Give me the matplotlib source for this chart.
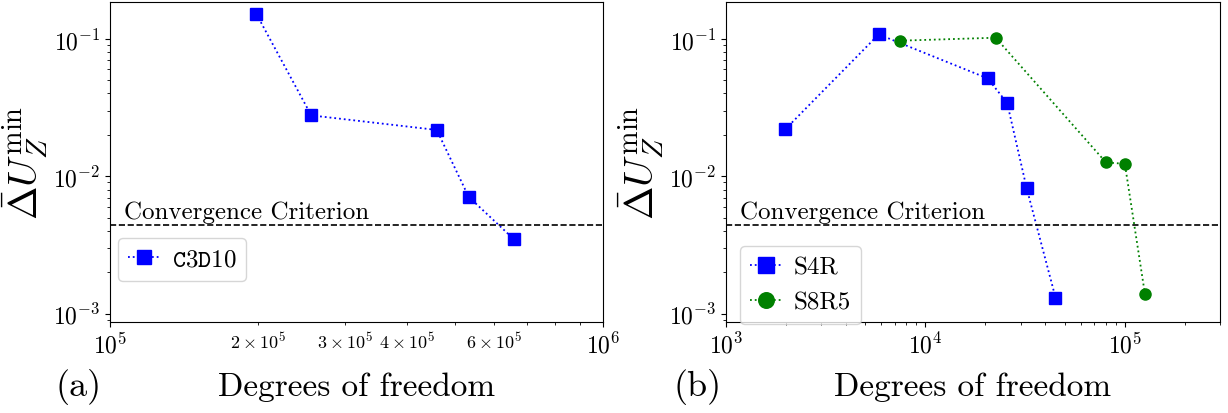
import numpy as np
import matplotlib
matplotlib.use("Agg")
import matplotlib.pyplot as plt

plt.rcParams["font.family"] = "serif"
plt.rcParams["font.serif"] = ["cmr10"]
plt.rcParams["mathtext.fontset"] = "cm"
plt.rcParams["axes.formatter.use_mathtext"] = True

# (a) solid element mesh study
dof_c3d10 = [1.98e5, 2.56e5, 4.6e5, 5.34e5, 6.6e5]
du_c3d10 = [0.152, 0.0277, 0.0217, 0.00708, 0.00347]

# (b) shell element mesh studies
dof_s4r = [1.98e3, 5.83e3, 2.05e4, 2.57e4, 3.22e4, 4.49e4]
du_s4r = [0.0219, 0.1075, 0.0515, 0.0341, 0.00815, 0.00131]
dof_s8r5 = [7.49e3, 2.25e4, 8.04e4, 1.0e5, 1.26e5]
du_s8r5 = [0.0968, 0.1017, 0.0126, 0.0123, 0.0014]

criterion = 4.4e-3
ylabel = r"$\bar{\Delta}U_Z^{\min}$"

fig = plt.figure(figsize=(12.28, 4.14), dpi=100)
ax1 = fig.add_axes([110 / 1228, 1 - 323 / 414, 493 / 1228, 320 / 414])
ax2 = fig.add_axes([726 / 1228, 1 - 323 / 414, 494 / 1228, 320 / 414])

ax1.plot(dof_c3d10, du_c3d10, ":s", color="blue", markersize=8, lw=1.3,
         label=r"$\mathtt{C3D10}$")
ax2.plot(dof_s4r, du_s4r, ":s", color="blue", markersize=8, lw=1.3, label="S4R")
ax2.plot(dof_s8r5, du_s8r5, ":o", color="green", markersize=8, lw=1.3, label="S8R5")

for ax in (ax1, ax2):
    ax.set_xscale("log")
    ax.set_yscale("log")
    ax.set_ylim(8.7e-4, 0.185)
    ax.axhline(criterion, color="black", ls="--", lw=1.2)
    ax.text(0.028, criterion * 1.03, "Convergence Criterion", fontsize=18,
            transform=ax.get_yaxis_transform(), va="bottom", ha="left")
    ax.set_ylabel(ylabel, fontsize=29, labelpad=2)
    ax.set_xlabel("Degrees of freedom", fontsize=24, labelpad=10)
    ax.tick_params(which="major", labelsize=17)
    ax.tick_params(which="minor", labelsize=13)

ax1.set_xlim(1e5, 1e6)
ax2.set_xlim(1e3, 3e5)

ax1.legend(loc="upper left", bbox_to_anchor=(0.016, 0.2625), borderaxespad=0,
           fontsize=18, markerscale=1.3, handlelength=1.3, handletextpad=0.45)
ax2.legend(loc="upper left", bbox_to_anchor=(0.028, 0.2375), borderaxespad=0,
           fontsize=18, markerscale=1.4, handlelength=1.3, handletextpad=0.45)

fig.text(79 / 1228, 1 - 387 / 414, "(a)", fontsize=26, ha="center", va="center")
fig.text(698 / 1228, 1 - 387 / 414, "(b)", fontsize=26, ha="center", va="center")

fig.savefig("out.png", dpi=100)
